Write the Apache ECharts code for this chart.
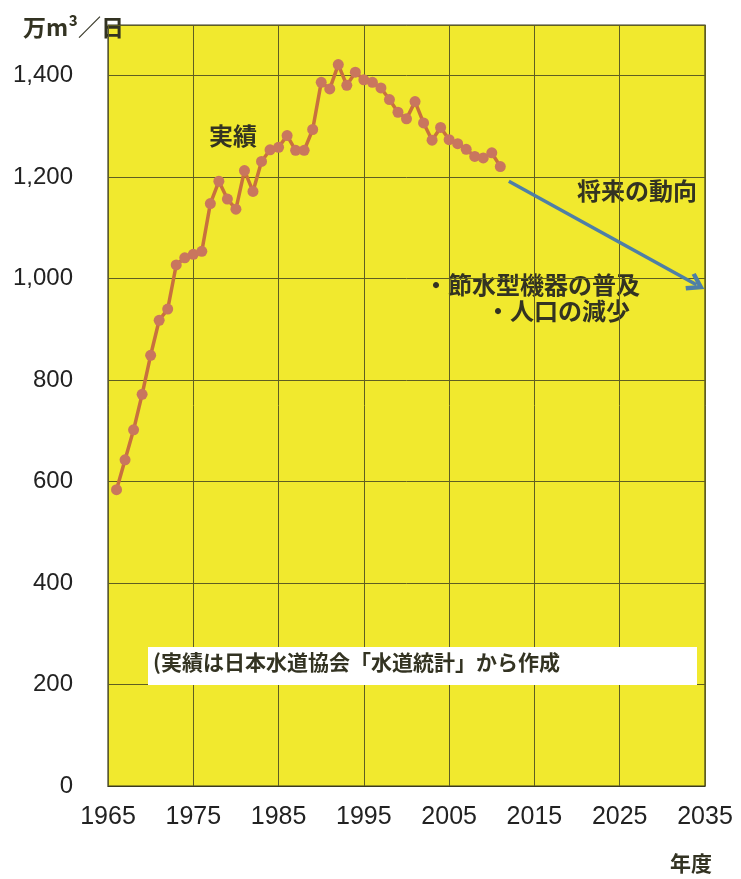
<!DOCTYPE html>
<html>
<head>
<meta charset="utf-8">
<script src="https://cdn.jsdelivr.net/npm/echarts@6/dist/echarts.min.js"></script>
<style>
html,body{margin:0;padding:0;background:#fff;}
#c{width:741px;height:879px;}
</style>
</head>
<body>
<div id="c"></div>
<script>
// ---- data ----
const axisYears = [];
for (let y = 1965; y <= 2035; y++) axisYears.push(String(y));
const years = [1966,1967,1968,1969,1970,1971,1972,1973,1974,1975,1976,1977,1978,1979,1980,
  1981,1982,1983,1984,1985,1986,1987,1988,1989,1990,1991,1992,1993,1994,1995,
  1996,1997,1998,1999,2000,2001,2002,2003,2004,2005,2006,2007,2008,2009,2010,2011];
const values = [584,643,702,772,849,918,940,1027,1041,1048,1054,1148,1192,1157,1137,
  1213,1172,1231,1254,1259,1282,1253,1253,1294,1387,1374,1422,1381,1407,1392,
  1387,1376,1353,1328,1315,1349,1307,1273,1298,1274,1266,1255,1241,1238,1248,1221];
const trendStart = [2012, 1192];
const trendEnd = [2034, 988];
const yTickLabels = ['0','200','400','600','800','1,000','1,200','1,400'];

const cjk = '"Noto Sans CJK JP", sans-serif';
const num = '"Liberation Sans", Arial, sans-serif';
const txt = '#333322';

const chart = echarts.init(document.getElementById('c'), null, {renderer:'canvas'});
chart.setOption({
  animation: false,
  backgroundColor: '#ffffff',
  grid: {
    left: 108, right: 36, top: 25, bottom: 93,
    show: true, backgroundColor: '#F1E92E', borderColor: '#3a3a20', borderWidth: 1.2
  },
  xAxis: {
    type: 'category',
    data: axisYears,
    boundaryGap: false,
    axisLine: {show: true, lineStyle: {color: '#3a3a20', width: 1.2}},
    axisTick: {show: false},
    axisLabel: {interval: 9, color: '#222222', fontSize: 25, fontFamily: num, margin: 19},
    splitLine: {show: true, interval: 9, lineStyle: {color: '#5f5e22', width: 1}}
  },
  yAxis: {
    type: 'value',
    min: 0, max: 1500, interval: 200,
    axisLine: {show: false},
    axisTick: {show: false},
    axisLabel: {
      color: '#222222', fontSize: 24, fontFamily: num, margin: 35,
      formatter: function (v) { const i = v / 200; return (Number.isInteger(i) && i < yTickLabels.length) ? yTickLabels[i] : ''; }
    },
    splitLine: {show: true, lineStyle: {color: '#5f5e22', width: 1}}
  },
  series: [{
    type: 'line',
    data: years.map((y, i) => [String(y), values[i]]),
    symbol: 'circle',
    symbolSize: 11,
    showSymbol: true,
    showAllSymbol: true,
    lineStyle: {color: '#C8703E', width: 3.5},
    itemStyle: {color: '#C9765E'},
    z: 3,
    markLine: {
      silent: true,
      symbol: ['none', 'path://M5,0L10,9L8.2,10.5L5,4.6L1.8,10.5L0,9Z'],
      symbolSize: [20, 18],
      label: {show: false},
      lineStyle: {color: '#4E7FA6', width: 3.5, type: 'solid'},
      data: [[
        {coord: [String(trendStart[0]), trendStart[1]]},
        {coord: [String(trendEnd[0]), trendEnd[1]]}
      ]]
    }
  }],
  graphic: [
    {type:'text', left: 23, top: 16, style:{text:'万m³／日', font:'bold 23px ' + cjk, fill: txt}},
    {type:'text', left: 670, top: 853, style:{text:'年度', font:'bold 21px ' + cjk, fill: txt}},
    {type:'text', left: 209, top: 124, style:{text:'実績', font:'bold 24px ' + cjk, fill: txt}},
    {type:'text', left: 577, top: 179, style:{text:'将来の動向', font:'bold 24px ' + cjk, fill: txt}},
    {type:'text', left: 424, top: 273, style:{text:'・節水型機器の普及', font:'bold 24px ' + cjk, fill: txt}},
    {type:'text', left: 486, top: 299, style:{text:'・人口の減少', font:'bold 24px ' + cjk, fill: txt}},
    {type:'rect', left: 148, top: 647, shape:{width: 549, height: 38}, style:{fill:'#ffffff'}, z: 10},
    {type:'text', left: 153, top: 652, z: 11, style:{text:'(実績は日本水道協会「水道統計」から作成', font:'bold 21px ' + cjk, fill: txt}}
  ]
});
</script>
</body>
</html>
